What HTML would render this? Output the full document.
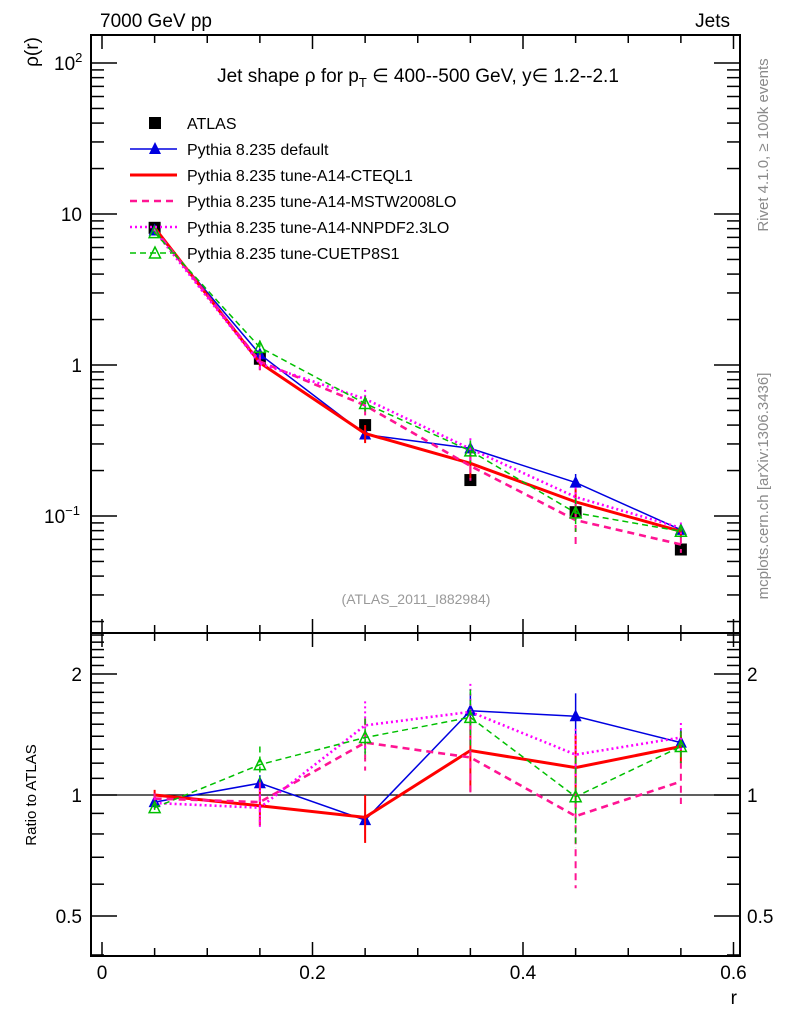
<!DOCTYPE html>
<html><head><meta charset="utf-8"><style>
html,body{margin:0;padding:0;background:#fff}
svg{display:block;font-family:"Liberation Sans",sans-serif}
</style></head><body>
<svg id="chart" width="786" height="1024" viewBox="0 0 786 1024" xmlns="http://www.w3.org/2000/svg">
<g id="static">
<text x="100" y="27" font-size="19">7000 GeV pp</text>
<text x="730" y="27" font-size="19" text-anchor="end">Jets</text>
<text x="418" y="82" font-size="19" text-anchor="middle">Jet shape ρ for p<tspan font-size="13" dy="5">T</tspan><tspan dy="-5"> ∈ 400--500 GeV, y∈ 1.2--2.1</tspan></text>
<text transform="translate(38,52) rotate(-90)" font-size="19" text-anchor="middle">ρ(r)</text>
<text transform="translate(36,795) rotate(-90)" font-size="15" text-anchor="middle">Ratio to ATLAS</text>
<text x="737" y="1004" font-size="19" text-anchor="end">r</text>
<text transform="translate(768,145) rotate(-90)" font-size="15" fill="#8a8a8a" text-anchor="middle">Rivet 4.1.0, ≥ 100k events</text>
<text transform="translate(768,486) rotate(-90)" font-size="15" fill="#8a8a8a" text-anchor="middle">mcplots.cern.ch [arXiv:1306.3436]</text>
<text x="416" y="604" font-size="14" fill="#999" text-anchor="middle">(ATLAS_2011_I882984)</text>
<rect x="91" y="35" width="649" height="598" fill="none" stroke="#000" stroke-width="2"/>
<rect x="91" y="633" width="649" height="323" fill="none" stroke="#000" stroke-width="2"/>
</g>
<g id="axes"></g>
<g id="marks"></g>
<g id="legend"></g>
</svg>
<script>
const rVals=[0.05,0.15,0.25,0.35,0.45,0.55];
const atlasVals=[8.1,1.10,0.40,0.173,0.106,0.060];
const atlasErr=[0.04,0.08,0.08,0.08,0.08,0.08];
const seriesNames=["Pythia 8.235 default","Pythia 8.235 tune-A14-CTEQL1","Pythia 8.235 tune-A14-MSTW2008LO","Pythia 8.235 tune-A14-NNPDF2.3LO","Pythia 8.235 tune-CUETP8S1"];
const ratioDefault=[0.96,1.07,0.866,1.62,1.57,1.35];
const ratioCTEQ=[1.0,0.94,0.88,1.29,1.17,1.32];
const ratioMSTW=[0.98,0.96,1.35,1.24,0.886,1.08];
const ratioNNPDF=[0.955,0.93,1.49,1.61,1.26,1.39];
const ratioCUETP=[0.93,1.19,1.39,1.56,0.99,1.32];
const errDefault=[0.02,0.05,0.09,0.18,0.22,0.1];
const errCTEQ=[0.03,0.1,0.12,0.27,0.25,0.12];
const errMSTW=[0.03,0.12,0.2,0.25,0.3,0.13];
const errNNPDF=[0.03,0.1,0.22,0.28,0.2,0.12];
const errCUETP=[0.02,0.13,0.16,0.27,0.25,0.12];
const mainTicks=[[100,"10","2"],[10,"10",""],[1,"1",""],[0.1,"10","−1"]];
const ratioTicks=[2,1,0.5];
const xTicks=[0,0.2,0.4,0.6];

const NS="http://www.w3.org/2000/svg";
const X0=91,X1=740,MT=35,MB=633,RB=956;
const xs=r=>102+1052.5*r;
const ys=v=>365-151*Math.log10(v);
const yr=v=>795-402*Math.log10(v);
function mk(parent,tag,attrs,text){const e=document.createElementNS(NS,tag);for(const k in attrs)e.setAttribute(k,attrs[k]);if(text!==undefined)e.textContent=text;document.getElementById(parent).appendChild(e);return e;}
// x ticks
for(let i=0;i<=12;i++){const r=i*0.05;const x=xs(r);const L=(i%4===0)?14:8;
 for(const [yb,yt] of [[MB,MT],[RB,633]]){
  let t=mk("axes","line",{x1:x,x2:x,y1:yb,y2:yb-L,stroke:"#000","stroke-width":1.5});
  
  t=mk("axes","line",{x1:x,x2:x,y1:yt,y2:yt+L,stroke:"#000","stroke-width":1.5});
  }}
xTicks.forEach(r=>{const t=mk("axes","text",{x:xs(r),y:979,"font-size":19,"text-anchor":"middle"},String(r));
 });
// main log ticks
for(let d=-2;d<=2;d++)for(let m=1;m<=9;m++){const v=m*Math.pow(10,d);const y=ys(v);if(y<MT||y>MB)continue;const L=m===1?26:13;
 let t=mk("axes","line",{x1:X0,x2:X0+L,y1:y,y2:y,stroke:"#000","stroke-width":1.5});
 t=mk("axes","line",{x1:X1,x2:X1-L,y1:y,y2:y,stroke:"#000","stroke-width":1.5});}
mainTicks.forEach(([v,b,e])=>{const t=mk("axes","text",{x:e?62:82,y:ys(v)+7,"font-size":19,"text-anchor":e?"start":"end"},b);
 if(e){t.setAttribute('x',e.length>1?44:54);const s=document.createElementNS(NS,"tspan");s.setAttribute("font-size","13");s.setAttribute("dy","-8");s.textContent=e;t.appendChild(s);}
 });
// ratio ticks
for(let i=4;i<=25;i++){const v=i/10;const y=yr(v);if(y<633||y>RB)continue;const L=(v===0.5||v===1||v===2)?26:13;
 let t=mk("axes","line",{x1:X0,x2:X0+L,y1:y,y2:y,stroke:"#000","stroke-width":1.5});
 t=mk("axes","line",{x1:X1,x2:X1-L,y1:y,y2:y,stroke:"#000","stroke-width":1.5});}
ratioTicks.forEach(v=>{let t=mk("axes","text",{x:82,y:yr(v)+7,"font-size":19,"text-anchor":"end"},String(v));
 t=mk("axes","text",{x:747,y:yr(v)+7,"font-size":19},String(v));});
let one=mk("axes","line",{x1:X0,x2:X1,y1:yr(1),y2:yr(1),stroke:"#000","stroke-width":1.3});


const styles=[
 {c:"#0000e0",w:1.5,d:"",mk:"tri"},
 {c:"#ff0000",w:3,d:"",mk:"none"},
 {c:"#ff1493",w:2.6,d:"7,5",mk:"none"},
 {c:"#ff00ff",w:2.6,d:"2,3",mk:"none"},
 {c:"#00c000",w:1.5,d:"6,4",mk:"otri"}];
const ratios=[ratioDefault,ratioCTEQ,ratioMSTW,ratioNNPDF,ratioCUETP];
const errs=[errDefault,errCTEQ,errMSTW,errNNPDF,errCUETP];
function marker(g,type,x,y,c){
 if(type==="tri"){const p=mk(g,"polygon",{points:`${x},${y-7} ${x-6},${y+5} ${x+6},${y+5}`,fill:c});}
 if(type==="otri"){const p=mk(g,"polygon",{points:`${x},${y-6} ${x-5.5},${y+5} ${x+5.5},${y+5}`,fill:"none",stroke:c,"stroke-width":1.5});}
}
// ATLAS main
rVals.forEach((r,i)=>{const x=xs(r);const v=atlasVals[i];
 const e=mk("marks","line",{x1:x,x2:x,y1:ys(v*(1+atlasErr[i])),y2:ys(v*(1-atlasErr[i])),stroke:"#000","stroke-width":1.5});
 
 const s=mk("marks","rect",{x:x-6,y:ys(v)-6,width:12,height:12,fill:"#000"});
 });
// series
ratios.forEach((rat,k)=>{const st=styles[k];
 const mainPts=rVals.map((r,i)=>xs(r)+","+ys(atlasVals[i]*rat[i])).join(" ");
 const ratPts=rVals.map((r,i)=>xs(r)+","+yr(rat[i])).join(" ");
 rVals.forEach((r,i)=>{const x=xs(r);const v=atlasVals[i]*rat[i];
  let e=mk("marks","line",{x1:x,x2:x,y1:ys(v*(1+errs[k][i]/rat[i])),y2:ys(v*(1-errs[k][i]/rat[i])),stroke:st.c,"stroke-width":st.w>2?2:1.5,"stroke-dasharray":st.d});
  
  e=mk("marks","line",{x1:x,x2:x,y1:yr(rat[i]+errs[k][i]),y2:yr(rat[i]-errs[k][i]),stroke:st.c,"stroke-width":st.w>2?2:1.5,"stroke-dasharray":st.d});
  });
 let l=mk("marks","polyline",{points:mainPts,fill:"none",stroke:st.c,"stroke-width":st.w,"stroke-dasharray":st.d});
 
 l=mk("marks","polyline",{points:ratPts,fill:"none",stroke:st.c,"stroke-width":st.w,"stroke-dasharray":st.d});
 
 rVals.forEach((r,i)=>{marker("marks",st.mk,xs(r),ys(atlasVals[i]*rat[i]),st.c);marker("marks",st.mk,xs(r),yr(rat[i]),st.c);});
});
// legend
const ly0=123,ldy=26;
let lt=mk("legend","rect",{x:149,y:ly0-6,width:12,height:12,fill:"#000"});
lt=mk("legend","text",{x:187,y:ly0+6,"font-size":16},"ATLAS");
seriesNames.forEach((n,k)=>{const st=styles[k];const y=ly0+ldy*(k+1);
 let e=mk("legend","line",{x1:130,x2:177,y1:y,y2:y,stroke:st.c,"stroke-width":st.w,"stroke-dasharray":st.d});
 
 marker("legend",st.mk,155,y,st.c);
 e=mk("legend","text",{x:187,y:y+6,"font-size":16},n);
 });
</script>
</body></html>
